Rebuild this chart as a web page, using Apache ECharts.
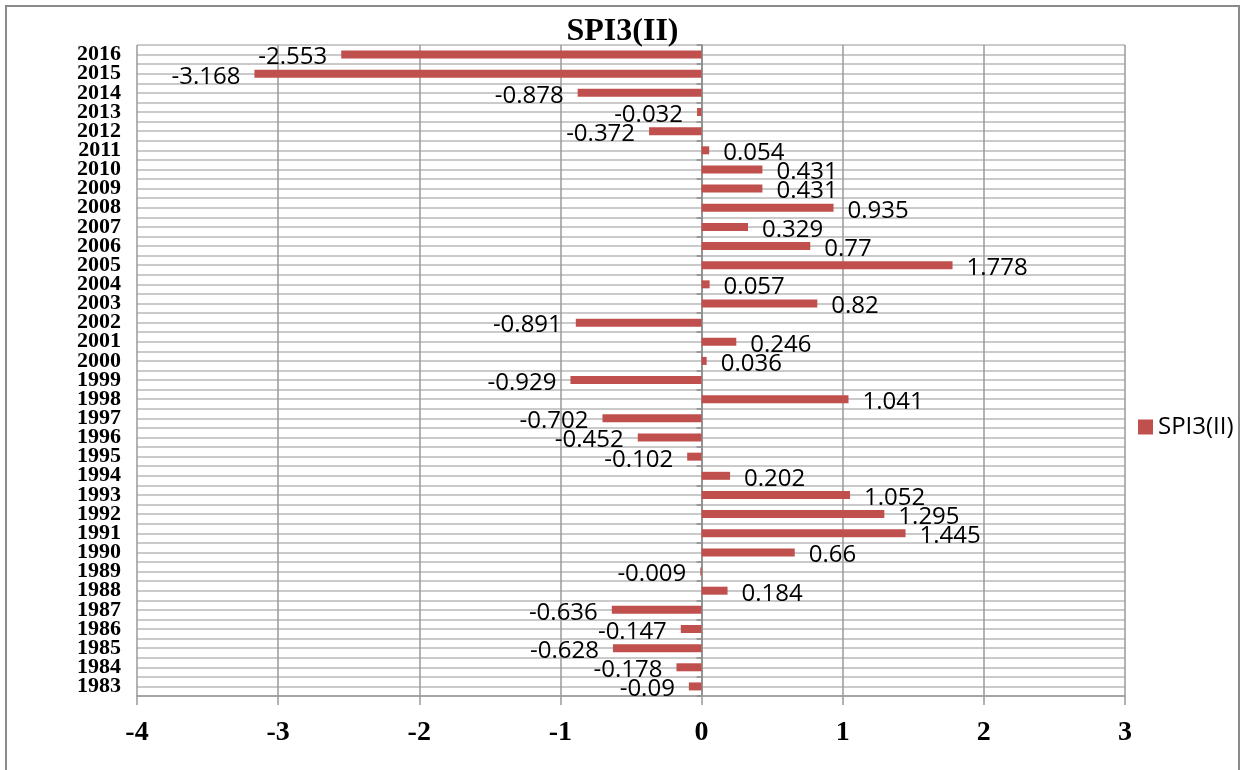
<!DOCTYPE html>
<html>
<head>
<meta charset="utf-8">
<script src="https://cdn.jsdelivr.net/npm/echarts@6/dist/echarts.min.js"></script>
<style>
  html, body { margin: 0; padding: 0; background: #fff; }
  #chart { width: 1245px; height: 770px; }
</style>
</head>
<body>
<div id="chart"></div>
<script>
// Years on the category axis, bottom (1983) to top (2016)
const years = ['1983','1984','1985','1986','1987','1988','1989','1990','1991','1992',
  '1993','1994','1995','1996','1997','1998','1999','2000','2001','2002','2003','2004',
  '2005','2006','2007','2008','2009','2010','2011','2012','2013','2014','2015','2016'];

// SPI3(II) value for each year
const spiValues = [-0.09, -0.178, -0.628, -0.147, -0.636, 0.184, -0.009, 0.66, 1.445, 1.295,
  1.052, 0.202, -0.102, -0.452, -0.702, 1.041, -0.929, 0.036, 0.246, -0.891, 0.82, 0.057,
  1.778, 0.77, 0.329, 0.935, 0.431, 0.431, 0.054, -0.372, -0.032, -0.878, -3.168, -2.553];

const seriesName = 'SPI3(II)';
const xTicks = { min: -4, max: 3, interval: 1 };

// half-row slots, used only to draw the fine horizontal rules
const halfRows = [];
years.forEach(y => { halfRows.push(y + 'a', y + 'b'); });

const chart = echarts.init(document.getElementById('chart'));

const gridLeft = 137, gridRight = 120;
const plotWidth = 1245 - gridLeft - gridRight;
const zeroOffset = plotWidth * (0 - xTicks.min) / (xTicks.max - xTicks.min);

chart.setOption({
  animation: false,
  backgroundColor: '#fff',
  graphic: [{
    type: 'rect',
    shape: { x: 6, y: 6, width: 1233, height: 790 },
    style: { fill: 'none', stroke: '#8a8a8a', lineWidth: 2 },
    silent: true
  }],
  title: {
    text: seriesName,
    left: 'center',
    top: 11,
    textStyle: { fontFamily: 'Liberation Serif', fontWeight: 'bold', fontSize: 32, color: '#000' }
  },
  legend: {
    data: [seriesName],
    orient: 'vertical',
    left: 1133,
    top: 410,
    icon: 'rect',
    itemWidth: 15,
    itemHeight: 15,
    itemGap: 6,
    textStyle: { fontFamily: 'Open Sans', fontSize: 24, color: '#000' }
  },
  grid: { left: gridLeft, right: gridRight, top: 45, bottom: 74, containLabel: false },
  xAxis: {
    type: 'value',
    min: xTicks.min,
    max: xTicks.max,
    interval: xTicks.interval,
    axisLine: { show: true, lineStyle: { color: '#999', width: 1.5 } },
    axisTick: { show: true, length: 9, lineStyle: { color: '#999', width: 1.5 } },
    splitLine: { show: true, lineStyle: { color: '#9a9a9a', width: 1.5 } },
    axisLabel: {
      margin: 23,
      fontFamily: 'Liberation Serif', fontWeight: 'bold', fontSize: 28, color: '#000'
    }
  },
  yAxis: [
    {
      type: 'category',
      data: years,
      position: 'left',
      axisLine: { show: false },
      axisTick: { show: false },
      splitLine: { show: false },
      axisLabel: {
        margin: 16,
        interval: 0,
        fontFamily: 'Liberation Serif', fontWeight: 'bold', fontSize: 22, color: '#000'
      }
    },
    {
      type: 'category',
      data: halfRows,
      position: 'left',
      axisLine: { show: false },
      axisTick: { show: false },
      axisLabel: { show: false },
      splitLine: { show: true, interval: 0, lineStyle: { color: '#b8b8b8', width: 1.5 } }
    },
    {
      type: 'category',
      data: years,
      position: 'left',
      offset: -zeroOffset,
      axisLine: { show: true, onZero: false, lineStyle: { color: '#8a8a8a', width: 1.5 } },
      axisTick: { show: true, length: 5, interval: 0, lineStyle: { color: '#8a8a8a', width: 1.5 } },
      axisLabel: { show: false },
      splitLine: { show: false }
    }
  ],
  series: [{
    name: seriesName,
    type: 'bar',
    xAxisIndex: 0,
    yAxisIndex: 0,
    barWidth: 8,
    itemStyle: { color: '#C0504D' },
    data: spiValues.map(v => ({
      value: v,
      label: { position: v < 0 ? 'left' : 'right' }
    })),
    label: {
      show: true,
      distance: 14,
      offset: [0, 3],
      fontFamily: 'Open Sans',
      fontSize: 24,
      color: '#000',
      formatter: p => String(p.value)
    }
  }]
});
</script>
</body>
</html>
